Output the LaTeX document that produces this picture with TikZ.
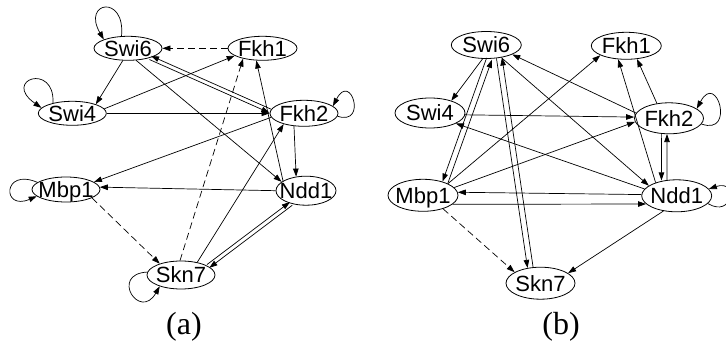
\documentclass[tikz,border=0pt]{standalone}
\usepackage{fontspec}
\setmainfont{Liberation Serif}
\newfontfamily\gnfont{Liberation Sans}
\usetikzlibrary{shapes.geometric,arrows.meta}
\newcommand\gnlab[1]{\makebox[0pt]{#1}}
\begin{document}
\begin{tikzpicture}[x=1pt,y=-1pt,
  gn/.style={ellipse, draw, line width=0.8pt, inner sep=0pt, text height=15.75pt, text depth=0pt,
    font=\gnfont\fontsize{22}{26}\selectfont, minimum width=68pt, minimum height=24pt},
  ed/.style={-{Triangle[length=8pt,width=5.5pt]}, line width=0.7pt},
  dsh/.style={ed, dash pattern=on 7pt off 4pt},
  caplab/.style={font=\fontsize{32}{36}\selectfont, inner sep=0pt}]
\useasboundingbox (0,0) rectangle (726,347);

% ---------- panel (a) ----------
\node[gn] (swi6a) at (128,48.3) {\gnlab{Swi6}};
\node[gn,minimum width=69pt] (fkh1a) at (262.5,48.3) {\gnlab{Fkh1}};
\node[gn] (swi4a) at (72.3,113.3) {\gnlab{Swi4}};
\node[gn,minimum height=26pt] (fkh2a) at (304,113.3) {\gnlab{Fkh2}};
\node[gn,minimum height=25pt] (mbp1a) at (66,189.5) {\gnlab{Mbp1}};
\node[gn,minimum width=60pt,minimum height=29pt] (ndd1a) at (306,190.7) {\gnlab{Ndd1}};
\node[gn,minimum height=28pt] (skn7a) at (181,275) {\gnlab{Skn7}};

\draw[dsh] (fkh1a.180) -- (swi6a.0);
\draw[ed] (swi6a.-113) -- (swi4a.21);
\draw[ed] (swi4a.8) -- (fkh1a.195);
\draw[ed] (swi4a.0) -- (fkh2a.180);
\draw[ed] ([shift={(0.8,-1.8)}]fkh2a.176) -- ([shift={(0.8,-1.8)}]swi6a.-23);
\draw[ed] ([shift={(-0.8,1.8)}]swi6a.-23) -- ([shift={(-0.8,1.8)}]fkh2a.176);
\draw[ed] (swi6a.-56) -- (ndd1a.160);
\draw[ed] (fkh2a.-173) -- (mbp1a.15);
\draw[ed] (ndd1a.180) -- (mbp1a.4);
\draw[ed] (fkh2a.-128) -- (ndd1a.125);
\draw[ed] (ndd1a.157) -- (fkh1a.-117);
\draw[dsh] (skn7a.94) -- (fkh1a.-152);
\draw[ed] (skn7a.38) -- (fkh2a.-152);
\draw[dsh] (mbp1a.-18) -- (skn7a.152);
\draw[ed] ([shift={(-1.2,-1.6)}]skn7a.18) -- ([shift={(-1.2,-1.6)}]ndd1a.-139);
\draw[ed] ([shift={(1.2,1.6)}]ndd1a.-139) -- ([shift={(1.2,1.6)}]skn7a.18);
% self loops (a)
\draw[ed] (swi6a.118) .. controls +(4,-42) and +(-22,-38) .. (swi6a.160);
\draw[ed] (swi4a.152) .. controls +(2,-41) and +(-40,-28) .. (swi4a.170);
\draw[ed] (fkh2a.-5) .. controls +(30,10) and +(18,-35) .. (fkh2a.14);
\draw[ed] (mbp1a.166) .. controls +(-35,-15) and +(-35,15) .. (mbp1a.-167);
\draw[ed] (skn7a.175) .. controls +(-38,2) and +(-20,35) .. (skn7a.-152);

\node[caplab] (laba) at (184,327) {(a)};

% ---------- panel (b) ----------
\node[gn,minimum width=70pt,minimum height=27pt] (swi6b) at (486.3,45) {\gnlab{Swi6}};
\node[gn,minimum width=70pt,minimum height=27pt] (fkh1b) at (626.3,45.8) {\gnlab{Fkh1}};
\node[gn,minimum width=70pt,minimum height=30pt] (swi4b) at (430,113) {\gnlab{Swi4}};
\node[gn,minimum width=69pt,minimum height=31pt] (fkh2b) at (669,118.3) {\gnlab{Fkh2}};
\node[gn,minimum width=70pt,minimum height=32pt] (mbp1b) at (423,195.3) {\gnlab{Mbp1}};
\node[gn,minimum width=70pt,minimum height=32pt] (ndd1b) at (676.7,195.8) {\gnlab{Ndd1}};
\node[gn,minimum width=69pt,minimum height=32pt] (skn7b) at (540.5,283.2) {\gnlab{Skn7}};

\draw[ed] (swi6b.-105) -- (swi4b.30);
\draw[ed] ([shift={(2.63,0.94)}]mbp1b.30) -- ([shift={(2.63,0.94)}]swi6b.-78);
\draw[ed] ([shift={(-2.63,-0.94)}]swi6b.-78) -- ([shift={(-2.63,-0.94)}]mbp1b.30);
\draw[ed] ([shift={(-2.77,0.42)}]swi6b.-45) -- ([shift={(-2.77,0.42)}]skn7b.123);
\draw[ed] ([shift={(2.77,-0.42)}]skn7b.123) -- ([shift={(2.77,-0.42)}]swi6b.-45);
\draw[ed] (fkh2b.171) -- (swi6b.-20);
\draw[ed] (swi6b.-40) -- (ndd1b.160);
\draw[ed] (swi4b.-3) -- (fkh2b.178);
\draw[ed] (mbp1b.14) -- (fkh2b.186);
\draw[ed] (mbp1b.25) -- (fkh1b.-160);
\draw[ed] (ndd1b.168) -- (swi4b.-22);
\draw[ed] (ndd1b.178) -- (mbp1b.5);
\draw[ed] (mbp1b.-17) -- (ndd1b.-165);
\draw[ed] (ndd1b.148) -- (fkh1b.-121);
\draw[ed] (fkh2b.129) -- (fkh1b.-51);
\draw[ed] ([shift={(-2.8,0)}]fkh2b.-107) -- ([shift={(-2.8,0)}]ndd1b.129);
\draw[ed] ([shift={(2.8,0)}]ndd1b.129) -- ([shift={(2.8,0)}]fkh2b.-107);
\draw[dsh] (mbp1b.-34) -- (skn7b.157);
\draw[ed] (ndd1b.-131) -- (skn7b.20);
% self loops (b)
\draw[ed] (fkh2b.-10) .. controls +(34,12) and +(20,-38) .. (fkh2b.19);
\draw[ed] (ndd1b.-14) .. controls +(25,15) and +(30,-10) .. (ndd1b.12);

\node[caplab] (labb) at (561,327) {(b)};
\end{tikzpicture}
\end{document}
